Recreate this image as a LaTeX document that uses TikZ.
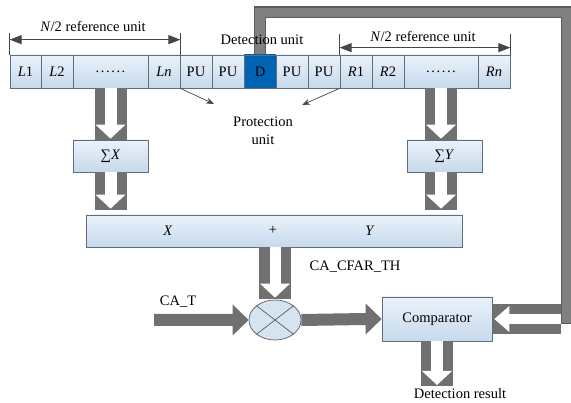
\documentclass[tikz,border=0pt]{standalone}
\usepackage{fontspec}
\setmainfont{Liberation Serif}
\usetikzlibrary{calc,arrows.meta,shapes.geometric}
\definecolor{cellborder}{RGB}{95,110,125}
\definecolor{celltop}{RGB}{234,242,250}
\definecolor{cellbot}{RGB}{198,217,236}
\definecolor{dblue}{RGB}{0,100,178}
\definecolor{agray}{RGB}{112,112,112}
\definecolor{fbdark}{RGB}{92,92,92}
\definecolor{fbgray}{RGB}{128,128,128}
\definecolor{dimgray}{RGB}{70,70,70}
\newcommand\hollowdown[3]{%
  \fill[agray] ($(#1)+(-16,0)$) rectangle ($(#2)+(16,0)$);
  \fill[white] ($(#1)+(-#3,0)$) rectangle ($(#2)+(#3,-15)$);
  \fill[white] ($(#2)+(-15,-15)$) -- ($(#2)+(15,-15)$) -- ($(#2)+(0,-1)$) -- cycle;}
\newcommand\solidright[2]{%
  \fill[agray] ($(#1)+(0,-6)$) -- ($(#2)+(-16,-6)$) -- ($(#2)+(-16,-15.5)$) -- (#2)
    -- ($(#2)+(-16,15.5)$) -- ($(#2)+(-16,6)$) -- ($(#1)+(0,6)$) -- cycle;}
\newcommand\sixdots{.\hspace{1.6pt}.\hspace{1.6pt}.\hspace{1.6pt}.\hspace{1.6pt}.\hspace{1.6pt}.}
\begin{document}
\begin{tikzpicture}[x=1pt,y=-1pt,
  font=\fontsize{14.5}{17}\selectfont,
  cell/.style={draw=cellborder, line width=0.7pt, top color=celltop, bottom color=cellbot,
    minimum height=33pt, inner sep=0pt},
  blk/.style={draw=cellborder, line width=0.7pt, top color=celltop, bottom color=cellbot,
    inner sep=0pt},
  dimline/.style={draw=dimgray, line width=1.1pt,
    {Triangle[length=12pt,width=9pt]}-{Triangle[length=12pt,width=9pt]}},
  tickline/.style={draw=dimgray, line width=0.6pt},
  thinarr/.style={draw=dimgray, line width=0.7pt, -{Stealth[length=8pt,width=6pt]}},
  lbl/.style={inner sep=0pt}]
\useasboundingbox (0,0) rectangle (571,403);

% feedback band
\coordinate (fbtl) at (260,12.5);
\coordinate (fbtr) at (567,12.5);
\node[cell, minimum width=32pt, top color=dblue, bottom color=dblue] (D) at (260,71.5) {D};
\draw[line width=12pt, fbdark] (D.north) -- (fbtl) -- (fbtr) -- ($(fbtr |- 0,324)$);
\draw[line width=9.5pt, fbgray] ($(D.north)+(0,-1)$) -- (fbtl) -- (fbtr) -- ($(fbtr |- 0,323)$);

% cells
\node[cell, minimum width=31pt] (L1) at (25.5,71.5) {\textit{L}1};
\node[cell, minimum width=32pt] (L2) at (57,71.5) {\textit{L}2};
\node[cell, minimum width=75pt] (ld) at (110.5,71.5) {\sixdots};
\node[cell, minimum width=32pt] (Ln) at (164,71.5) {\textit{Ln}};
\node[cell, minimum width=32pt] (P1) at (196,71.5) {PU};
\node[cell, minimum width=32pt] (P2) at (228,71.5) {PU};
\node[cell, minimum width=32pt, top color=dblue, bottom color=dblue] (D) at (260,71.5) {D};
\node[cell, minimum width=32pt] (P3) at (292,71.5) {PU};
\node[cell, minimum width=32pt] (P4) at (324,71.5) {PU};
\node[cell, minimum width=32pt] (R1) at (356,71.5) {\textit{R}1};
\node[cell, minimum width=32pt] (R2) at (388,71.5) {\textit{R}2};
\node[cell, minimum width=74pt] (rd) at (441,71.5) {\sixdots};
\node[cell, minimum width=32pt] (Rn) at (494,71.5) {\textit{Rn}};

% dimension arrows
\draw[tickline] (L1.north west) -- ++(0,-22);
\draw[tickline] (Ln.north east) -- ++(0,-22);
\draw[dimline] ($(L1.north west)+(0,-15)$) -- ($(Ln.north east)+(0,-15)$);
\node[lbl] (nl) at (93,26) {\textit{N}/2 reference unit};
\draw[tickline] (R1.north west) -- ++(0,-21);
\draw[tickline] (Rn.north east) -- ++(0,-21);
\draw[dimline] ($(R1.north west)+(0,-7)$) -- ($(Rn.north east)+(0,-7)$);
\node[lbl] (nr) at (423,36) {\textit{N}/2 reference unit};
\node[lbl] (du) at (262,40) {Detection unit};

% protection unit
\node[lbl, align=center] (pu) at (263,131) {Protection\\[1pt]unit};
\coordinate (pa) at (214,104);
\coordinate (pb) at (302,105);
\draw[thinarr] (Ln.south east) -- (pa);
\draw[thinarr] (R1.south west) -- (pb);

% sum boxes
\node[blk, minimum width=75pt, minimum height=32pt] (sumX) at (110.5,156) {∑\textit{X}};
\node[blk, minimum width=75pt, minimum height=32pt] (sumY) at (444.5,156) {∑\textit{Y}};
\node[blk, minimum width=376pt, minimum height=32pt] (bar) at (274,231) {};
\node[lbl] (bx) at (168,231) {\textit{X}};
\node[lbl] (bp) at (273,230) {+};
\node[lbl] (by) at (370,231) {\textit{Y}};

\hollowdown{ld.south}{sumX.north}{6}
\hollowdown{rd.south}{rd.south |- sumY.north}{6}
\coordinate (xa) at ($(sumX.south |- bar.north)+(0,-5)$);
\coordinate (ya) at ($(rd.south |- bar.north)+(0,-5)$);
\hollowdown{sumX.south}{xa}{6}
\hollowdown{rd.south |- sumY.south}{ya}{6}

% multiplier
\node[ellipse, draw=fbdark, line width=0.7pt, fill={rgb,255:red,214;green,227;blue,240},
  minimum width=52pt, minimum height=40pt, inner sep=0pt] (mult) at (275,320) {};
\draw[fbdark, line width=0.7pt] (mult.north west) -- (mult.south east);
\draw[fbdark, line width=0.7pt] (mult.north east) -- (mult.south west);
\hollowdown{mult.north |- bar.south}{$(mult.north)+(0,-1)$}{5.5}

\node[lbl] (cfar) at (355,267) {CA\_CFAR\_TH};
\node[lbl] (cat) at (178,302) {CA\_T};
\coordinate (cats) at (154,320);
\solidright{cats}{mult.west}

% comparator
\node[blk, minimum width=110pt, minimum height=44pt] (comp) at (437,319) {Comparator};
\solidright{mult.east}{comp.west}

% feedback hollow arrow into comparator
\fill[agray] ($(comp.east)+(1,-15)$) rectangle ($(comp.east)+(69,15)$);
\fill[white] ($(comp.east)+(17,-5)$) rectangle ($(comp.east)+(69,5)$);
\fill[white] ($(comp.east)+(17,-13)$) -- ($(comp.east)+(17,13)$) -- ($(comp.east)+(2,0)$) -- cycle;

% result
\coordinate (res) at (437,386);
\hollowdown{comp.south}{res}{6}
\node[lbl] (dr) at (460,394) {Detection result};
\end{tikzpicture}
\end{document}
